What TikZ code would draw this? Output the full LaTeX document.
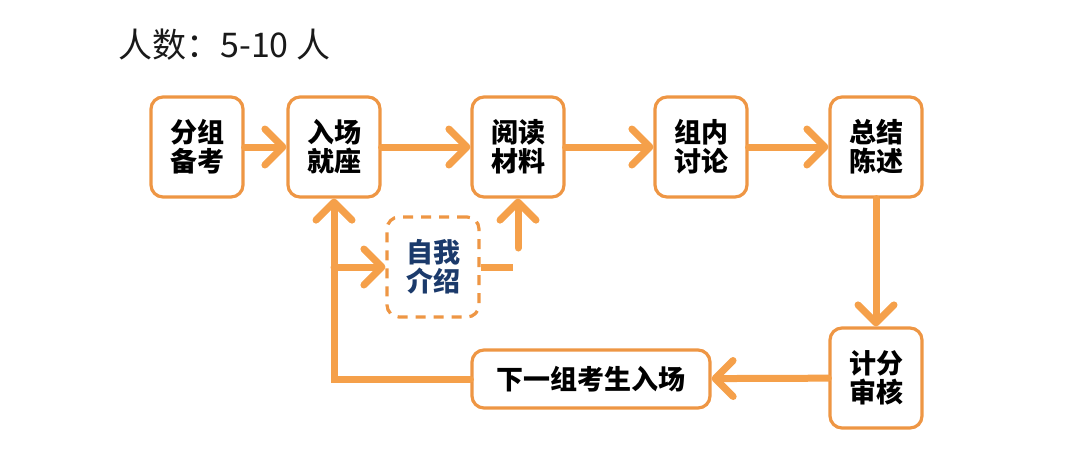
\documentclass[tikz,border=0pt]{standalone}
\usepackage{fontspec}
\setmainfont{Noto Sans CJK SC}
\usetikzlibrary{arrows.meta}
\definecolor{org}{HTML}{F5A04A}
\definecolor{bord}{HTML}{EE9644}
\definecolor{navy}{HTML}{1B3A6B}
\begin{document}
\begin{tikzpicture}[x=0.5pt,y=-0.5pt,
  box/.style={draw=bord, line width=1.6pt, rounded corners=6pt, fill=white,
    minimum width=46pt, minimum height=50pt, inner sep=0pt, align=center,
    font=\bfseries\fontsize{13.5}{14.5}\selectfont},
  dbox/.style={box, dashed, dash pattern=on 5pt off 4pt, text=navy},
  flow/.style={draw=org, line width=3.5pt, line cap=round,
    -{Straight Barb[length=9pt,width=18pt,line cap=round,line join=round]}},
  plain/.style={draw=org, line width=3.5pt}]
\useasboundingbox (0,0) rectangle (1080,456);
\node[font=\fontsize{17}{20}\selectfont, text=black!90, anchor=west, inner sep=0pt] (title) at (118,45) {人数：5-10 人};

\node[box] (fz) at (197,147) {分组\\备考};
\node[box] (rc) at (334,147) {入场\\就座};
\node[box] (yd) at (518,147) {阅读\\材料};
\node[box] (zn) at (701,147) {组内\\讨论};
\node[box] (zj) at (876,147) {总结\\陈述};
\node[box] (jf) at (876,378) {计分\\审核};
\node[box, minimum width=119pt, minimum height=29pt] (xy) at (591,379) {下一组考生入场};
\node[dbox] (zw) at (433,267) {自我\\介绍};

\draw[flow] (fz) -- (rc);
\draw[flow] (rc) -- (yd);
\draw[flow] (yd) -- (zn);
\draw[flow] (zn) -- (zj);
\draw[flow] (zj) -- (jf);
\draw[flow] (jf) -- (xy);
\draw[flow] (xy.west) -| (rc.south);
\coordinate (br) at (rc.south |- zw.west);
\draw[flow] (br) -- (zw.west);
\coordinate (e1) at (513,267);
\draw[plain] (zw.east) -- (e1);
\coordinate (up) at (518,248);
\draw[flow] (up) -- (yd.south);
\end{tikzpicture}
\end{document}
